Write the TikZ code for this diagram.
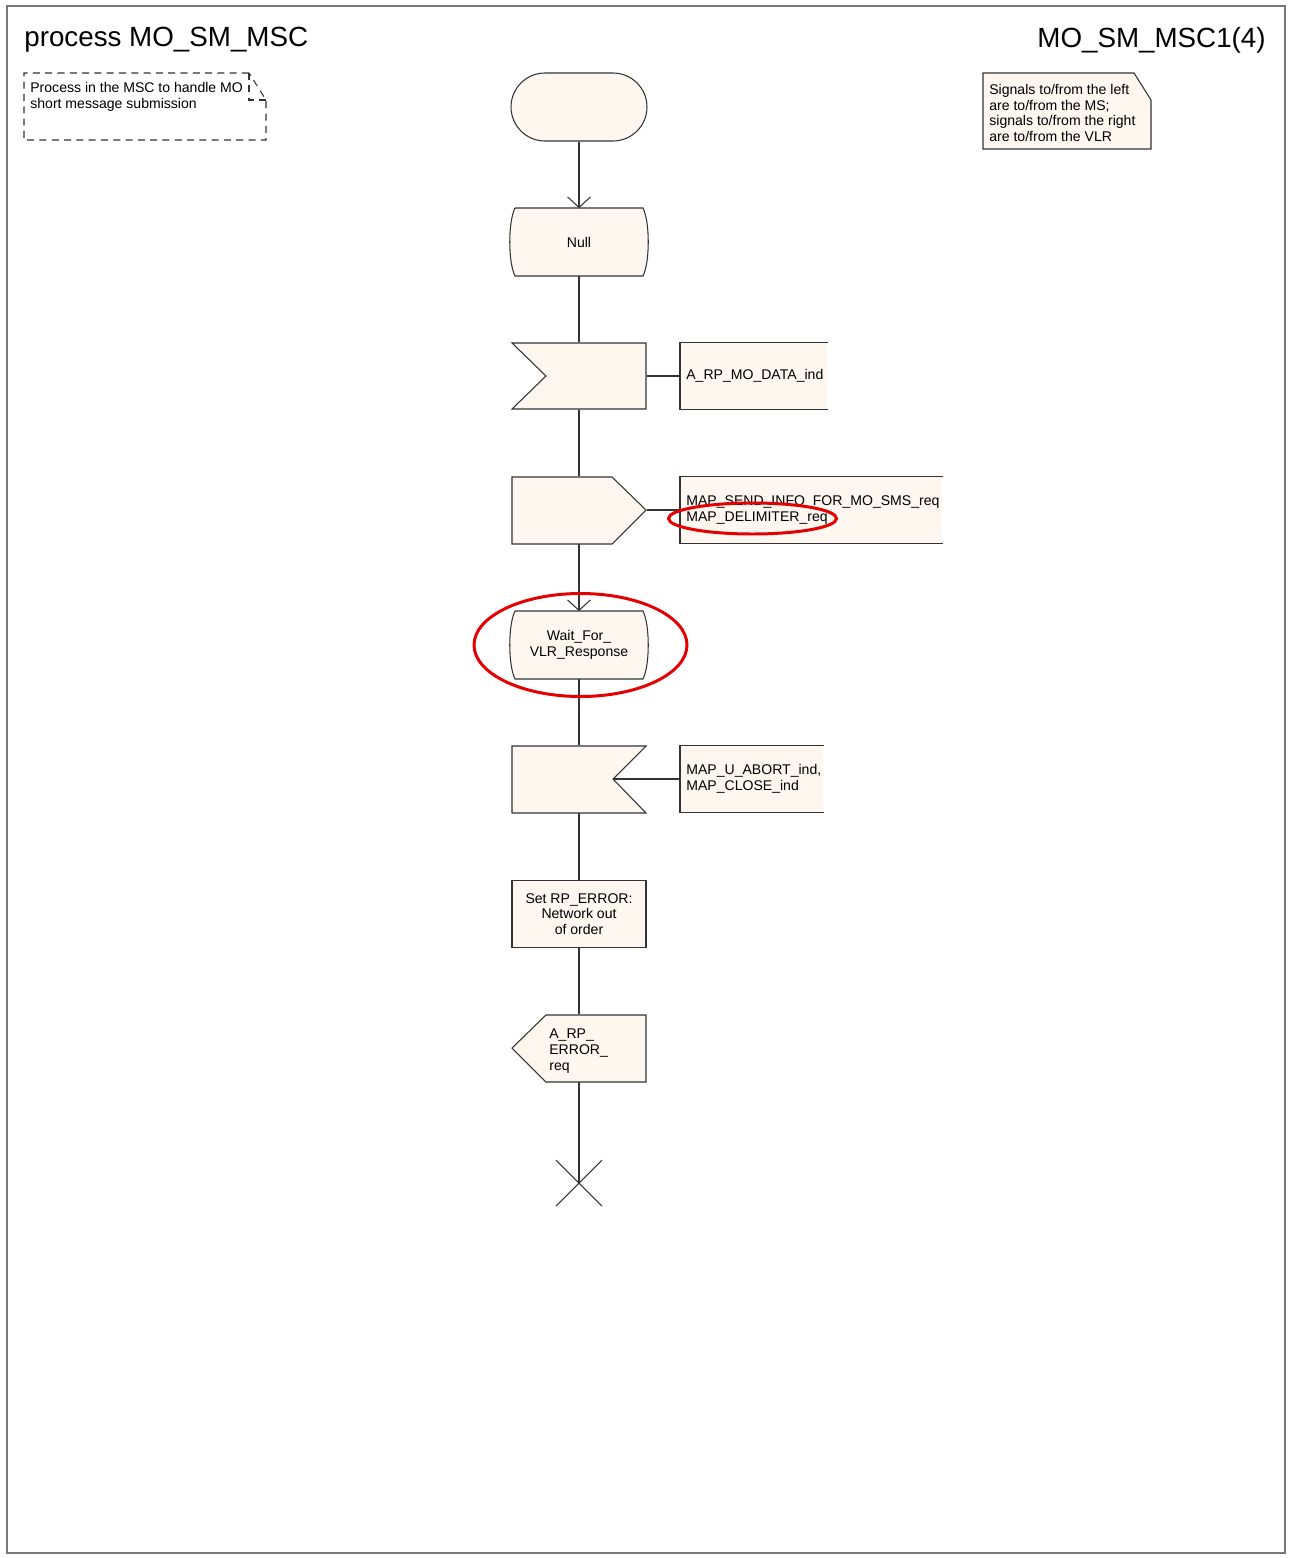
\documentclass[tikz,border=0pt]{standalone}
\usepackage{fontspec}
\setmainfont{Liberation Sans}
\usetikzlibrary{arrows.meta}

\definecolor{sdlfill}{RGB}{253,247,240}
\definecolor{framegray}{RGB}{120,120,120}
\definecolor{ringred}{RGB}{228,0,0}

\tikzset{
  txt/.style={font=\fontsize{8}{9}\selectfont},
  heading/.style={font=\fontsize{15.8}{19}\selectfont, inner sep=0pt},
  sym/.style={draw=black!80, fill=sdlfill, line width=0.6pt},
  flow/.style={draw=black!80, line width=0.6pt},
  arr/.style={-{Straight Barb[length=6pt,width=13pt]}},
  slot/.style={txt, inner sep=0pt, minimum width=2.72cm, minimum height=1.34cm, align=center},
  cmt/.style={txt, anchor=west, fill=sdlfill, inner xsep=0.12cm, inner ysep=0pt,
              minimum height=1.34cm, align=left},
  hilite/.style={draw=ringred, line width=1.7pt}
}

\begin{document}
\begin{tikzpicture}[x=0.02cm, y=-0.02cm]
  \useasboundingbox (0,0) rectangle (1289,1558);
  \draw [framegray, line width=0.6pt] (7,6) rectangle (1285,1553);

  % page headings
  \node[heading, anchor=west] (proc) at (24,40) {process MO\_SM\_MSC};
  \node[heading, anchor=east] (page) at (1266,40) {MO\_SM\_MSC1(4)};

  % text symbol, top left
  \draw [flow, dash pattern=on 4pt off 3pt] (249,73) -- (24,73) -- (24,140) -- (266,140) -- (266,100) -- (249,73);
  \draw [flow, dash pattern=on 4pt off 3pt] (249,73) -- (249,100) -- (266,100);
  \node[txt, inner sep=0pt, anchor=west, align=left] (about) at (30,97)
    {Process in the MSC to handle MO\\short message submission};

  % note, top right
  \draw [sym] (983,73) -- (1134,73) -- (1151,100) -- (1151,149) -- (983,149) -- cycle;
  \node[txt, inner sep=0pt, anchor=west, align=left] (note) at (989,113)
    {Signals to/from the left\\are to/from the MS;\\signals to/from the right\\are to/from the VLR};

  % symbols
  \node[sym, rounded corners=0.68cm, minimum width=2.72cm, minimum height=1.36cm] (start) at (579,107) {};

  \draw [sym] (515,208) -- (643,208) .. controls (650,222) and (650,262) .. (643,276)
        -- (515,276) .. controls (508,262) and (508,222) .. (515,208);
  \node[slot] (null) at (579,242) {Null};

  \draw [sym] (512,343) -- (646,343) -- (646,409) -- (512,409) -- (546,376) -- cycle;
  \node[slot] (modata) at (579,376) {};

  \draw [sym] (512,477) -- (612,477) -- (646,510) -- (612,544) -- (512,544) -- cycle;
  \node[slot] (sendinfo) at (579,510) {};

  \draw [sym] (515,611) -- (643,611) .. controls (650,625) and (650,665) .. (643,679)
        -- (515,679) .. controls (508,665) and (508,625) .. (515,611);
  \node[slot] (wait) at (579,645) {Wait\_For\_\\VLR\_Response};

  \draw [sym] (512,746) -- (646,746) -- (613,779) -- (646,813) -- (512,813) -- cycle;
  \node[slot] (abort) at (579,779) {};
  \coordinate (abortnotch) at (613,779);

  \node[slot, sym, minimum width=2.68cm] (rperr) at (579,914) {Set RP\_ERROR:\\Network out\\of order};

  \draw [sym] (546,1015) -- (646,1015) -- (646,1082) -- (546,1082) -- (512,1048) -- cycle;
  \node[slot] (errreq) at (579,1048) {};
  \node[txt, inner sep=0pt, anchor=west, align=left] (errtxt) at (549,1051) {A\_RP\_\\ERROR\_\\req};

  \coordinate (stop) at (579,1183);

  % signal comments
  \node[cmt, text width=2.7cm] (c1) at (680,376) {A\_RP\_MO\_DATA\_ind};
  \node[cmt, text width=5.0cm] (c2) at (680,510) {MAP\_SEND\_INFO\_FOR\_MO\_SMS\_req\\MAP\_DELIMITER\_req};
  \node[cmt, text width=2.62cm] (c3) at (680,779) {MAP\_U\_ABORT\_ind,\\MAP\_CLOSE\_ind};
  \foreach \c in {c1,c2,c3}
    \draw [flow] (\c.north east) -- (\c.north west) -- (\c.south west) -- (\c.south east);

  % connectors
  \draw [flow, arr] (start) -- (null);
  \draw [flow] (null) -- (modata);
  \draw [flow] (modata) -- (sendinfo);
  \draw [flow, arr] (sendinfo) -- (wait);
  \draw [flow] (wait) -- (abort);
  \draw [flow] (abort) -- (rperr);
  \draw [flow] (rperr) -- (errreq);
  \draw [flow] (errreq) -- (stop);
  \draw [flow] (stop) +(-23,-23) -- +(23,23) +(-23,23) -- +(23,-23);

  \draw [flow] (modata) -- (c1);
  \draw [flow] (sendinfo) -- (c2);
  \draw [flow] (abortnotch) -- (c3);

  % highlights
  \draw [hilite] (752.5,518.5) ellipse [x radius=84, y radius=15.5];
  \draw [hilite] (580.5,645) ellipse [x radius=106.5, y radius=51.5];
\end{tikzpicture}
\end{document}
